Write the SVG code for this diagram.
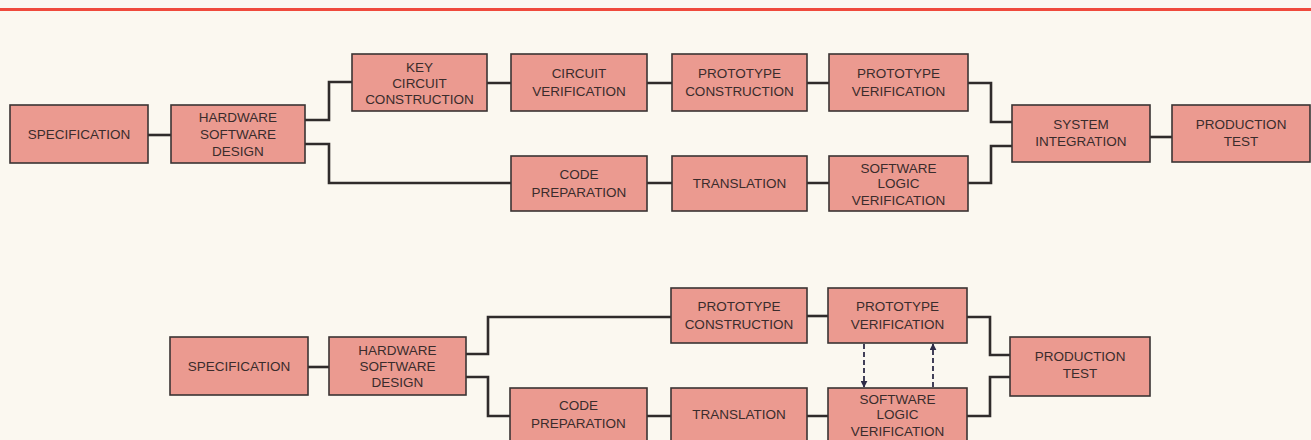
<svg xmlns="http://www.w3.org/2000/svg" width="1311" height="440" viewBox="0 0 1311 440">
<defs>
<style>
.bg{fill:#fbf8f0}
.box{fill:#eb9a90;stroke:#3a3434;stroke-width:1.6}
.t{font-family:"Liberation Sans",Arial,sans-serif;font-size:13.5px;fill:#3a2c2c;text-anchor:middle}
.ln{fill:none;stroke:#2f2b2b;stroke-width:2.6;stroke-linejoin:miter}
.dash{fill:none;stroke:#2e2c48;stroke-width:1.8;stroke-dasharray:5 3}
</style>
<marker id="ah" viewBox="0 0 10 10" refX="9" refY="5" markerWidth="7" markerHeight="7" markerUnits="userSpaceOnUse" orient="auto">
<path d="M0,0 L10,5 L0,10 z" fill="#2e2c48"/>
</marker>
</defs>
<rect class="bg" x="0" y="0" width="1311" height="440"/>
<line x1="0" y1="9.5" x2="1311" y2="9.5" stroke="#ef4a3c" stroke-width="3"/>

<g id="connectors">
<path class="ln" d="M148,135 H171"/>
<path class="ln" d="M305,120 H329 V82 H352"/>
<path class="ln" d="M305,144 H329 V183 H511"/>
<path class="ln" d="M487,83 H511 M647,83 H672 M807,83 H829"/>
<path class="ln" d="M647,183 H672 M807,183 H829"/>
<path class="ln" d="M968,83 H991 V122 H1012"/>
<path class="ln" d="M968,183 H991 V146 H1012"/>
<path class="ln" d="M1150,137 H1172"/>

<path class="ln" d="M308,367 H329"/>
<path class="ln" d="M466,354 H488 V317 H671"/>
<path class="ln" d="M466,377 H488 V416 H510"/>
<path class="ln" d="M647,416 H671 M807,416 H828"/>
<path class="ln" d="M807,316 H828"/>
<path class="ln" d="M967,317 H990 V355 H1010"/>
<path class="ln" d="M967,416 H990 V377 H1010"/>
<path class="dash" d="M864,344 V387" marker-end="url(#ah)"/>
<path class="dash" d="M933,387 V344" marker-end="url(#ah)"/>
</g>

<g id="t-spec"><rect class="box" x="10" y="105" width="138" height="58"/><text class="t" x="79" y="139">SPECIFICATION</text></g>
<g id="t-hw"><rect class="box" x="171" y="105" width="134" height="58"/><text class="t" x="238" y="122">HARDWARE</text><text class="t" x="238" y="139">SOFTWARE</text><text class="t" x="238" y="156">DESIGN</text></g>
<g id="t-key"><rect class="box" x="352" y="54" width="135" height="57"/><text class="t" x="419.5" y="72">KEY</text><text class="t" x="419.5" y="88">CIRCUIT</text><text class="t" x="419.5" y="104">CONSTRUCTION</text></g>
<g id="t-cv"><rect class="box" x="511" y="54" width="136" height="57"/><text class="t" x="579" y="78">CIRCUIT</text><text class="t" x="579" y="96">VERIFICATION</text></g>
<g id="t-pc"><rect class="box" x="672" y="54" width="135" height="57"/><text class="t" x="739.5" y="78">PROTOTYPE</text><text class="t" x="739.5" y="96">CONSTRUCTION</text></g>
<g id="t-pv"><rect class="box" x="829" y="54" width="139" height="57"/><text class="t" x="898.5" y="78">PROTOTYPE</text><text class="t" x="898.5" y="96">VERIFICATION</text></g>
<g id="t-cp"><rect class="box" x="511" y="156" width="136" height="55"/><text class="t" x="579" y="179">CODE</text><text class="t" x="579" y="197">PREPARATION</text></g>
<g id="t-tr"><rect class="box" x="672" y="156" width="135" height="55"/><text class="t" x="739.5" y="188">TRANSLATION</text></g>
<g id="t-slv"><rect class="box" x="829" y="156" width="139" height="55"/><text class="t" x="898.5" y="173">SOFTWARE</text><text class="t" x="898.5" y="188">LOGIC</text><text class="t" x="898.5" y="205">VERIFICATION</text></g>
<g id="t-si"><rect class="box" x="1012" y="105" width="138" height="57"/><text class="t" x="1081" y="129">SYSTEM</text><text class="t" x="1081" y="146">INTEGRATION</text></g>
<g id="t-pt"><rect class="box" x="1172" y="105" width="138" height="57"/><text class="t" x="1241" y="129">PRODUCTION</text><text class="t" x="1241" y="146">TEST</text></g>

<g id="b-spec"><rect class="box" x="170" y="337" width="138" height="58"/><text class="t" x="239" y="371">SPECIFICATION</text></g>
<g id="b-hw"><rect class="box" x="329" y="337" width="137" height="58"/><text class="t" x="397.5" y="355">HARDWARE</text><text class="t" x="397.5" y="371">SOFTWARE</text><text class="t" x="397.5" y="387">DESIGN</text></g>
<g id="b-pc"><rect class="box" x="671" y="288" width="136" height="55"/><text class="t" x="739" y="311">PROTOTYPE</text><text class="t" x="739" y="329">CONSTRUCTION</text></g>
<g id="b-pv"><rect class="box" x="828" y="288" width="139" height="55"/><text class="t" x="897.5" y="311">PROTOTYPE</text><text class="t" x="897.5" y="329">VERIFICATION</text></g>
<g id="b-cp"><rect class="box" x="510" y="388" width="137" height="60"/><text class="t" x="578.5" y="410">CODE</text><text class="t" x="578.5" y="428">PREPARATION</text></g>
<g id="b-tr"><rect class="box" x="671" y="388" width="136" height="60"/><text class="t" x="739" y="419">TRANSLATION</text></g>
<g id="b-slv"><rect class="box" x="828" y="388" width="139" height="60"/><text class="t" x="897.5" y="404">SOFTWARE</text><text class="t" x="897.5" y="419">LOGIC</text><text class="t" x="897.5" y="436">VERIFICATION</text></g>
<g id="b-pt"><rect class="box" x="1010" y="337" width="140" height="59"/><text class="t" x="1080" y="361">PRODUCTION</text><text class="t" x="1080" y="378">TEST</text></g>
</svg>
